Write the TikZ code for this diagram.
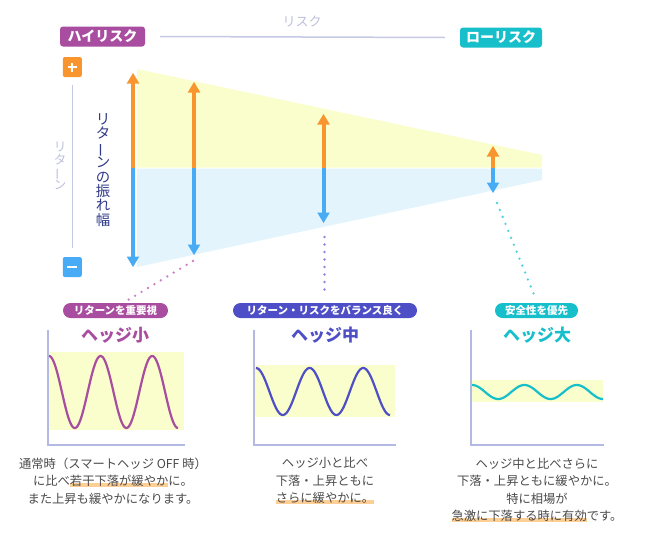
\documentclass[tikz,border=0pt]{standalone}
\usepackage{fontspec}
\setmainfont{Noto Sans CJK JP}
\usepackage{graphicx}
\definecolor{hipurple}{HTML}{A84D9F}
\definecolor{loteal}{HTML}{17BFCB}
\definecolor{midblue}{HTML}{4E4FC6}
\definecolor{fanyel}{HTML}{FAFDCC}
\definecolor{fanblue}{HTML}{E3F4FC}
\definecolor{arrorange}{HTML}{F8952F}
\definecolor{arrblue}{HTML}{47ABF6}
\definecolor{axisc}{HTML}{B4B9E4}
\definecolor{lightline}{HTML}{C5C9E3}
\definecolor{lighttext}{HTML}{BCC0DB}
\definecolor{navytext}{HTML}{2E3A87}
\definecolor{bodytext}{HTML}{4A4A4A}
\definecolor{hlc}{HTML}{FDCF94}
\definecolor{dotpurple}{HTML}{C97FC4}
\definecolor{dotblue}{HTML}{8E8AE3}
\definecolor{dotcyan}{HTML}{4BD3DD}
\newcommand{\hlmark}[1]{\setbox0\hbox{#1}\rlap{\raisebox{-1.5pt}{\textcolor{hlc}{\rule{\wd0}{4.5pt}}}}\box0}
\newcommand{\vbar}{\smash{\rotatebox[origin=c]{90}{ー}}}
\newcommand{\fanarr}[4]{%
  \fill[arrorange] (#1-2,#3) rectangle (#1+2,#2+9);
  \fill[arrorange] (#1,#2) -- (#1-6.3,#2+10.5) -- (#1+6.3,#2+10.5) -- cycle;
  \fill[arrblue] (#1-2,#3) rectangle (#1+2,#4-9);
  \fill[arrblue] (#1,#4) -- (#1-6.3,#4-10.5) -- (#1+6.3,#4-10.5) -- cycle;}
\tikzset{
  riskbox/.style={rounded corners=3pt, inner sep=0pt, minimum height=20pt, text=white, font=\bfseries\fontsize{14}{16}\selectfont},
  signbox/.style={rounded corners=2pt, minimum width=19pt, minimum height=20pt, inner sep=0pt},
  pill/.style={rounded corners=7.5pt, minimum height=15pt, inner sep=0pt, text=white, font=\bfseries\fontsize{10.5}{12}\selectfont},
  charttitle/.style={font=\bfseries\fontsize{17}{19}\selectfont, inner sep=0pt},
  desc/.style={align=center, text=bodytext, font=\fontsize{12.3}{17.5}\selectfont, inner sep=0pt},
  axisline/.style={draw=axisc, line width=1.8pt},
  wave/.style={line width=2.2pt},
  dots/.style={line width=2.6pt, line cap=round, dash pattern=on 0pt off 7.5pt},
  guide/.style={draw=lightline, line width=1.5pt}
}
\begin{document}
\begin{tikzpicture}[x=1pt, y=-1pt]
\useasboundingbox (0,0) rectangle (650,541);
% header
\node[riskbox, fill=hipurple, minimum width=85pt] (hi) at (102.5,36.5) {ハイリスク};
\node[riskbox, fill=loteal, minimum width=82pt] (lo) at (501,37.5) {ローリスク};
\draw[guide] ([xshift=15pt]hi.east) -- ([xshift=-15pt]lo.west);
\node[text=lighttext, font=\fontsize{13}{14}\selectfont, inner sep=0pt] (risk) at (302,22) {リスク};
% left axis
\node[signbox, fill=arrorange] (plus) at (72.3,67) {};
\draw[white, line width=1.8pt] ([xshift=-4.5pt]plus.center) -- ([xshift=4.5pt]plus.center)
  ([yshift=-4.5pt]plus.center) -- ([yshift=4.5pt]plus.center);
\node[signbox, fill=arrblue] (minus) at (72.3,267) {};
\draw[white, line width=1.8pt] ([xshift=-5pt]minus.center) -- ([xshift=5pt]minus.center);
\draw[guide] ([yshift=-8pt]plus.south) -- ([yshift=9pt]minus.north);
\node[align=center, text=lighttext, font=\fontsize{12.5}{12.5}\selectfont, inner sep=0pt] (retv) at (60,166) {リ\\タ\\\vbar\\ン};
% fan
\fill[fanyel] (137,69) -- (542,155) -- (542,167.6) -- (137,167.6) -- cycle;
\fill[fanblue] (137,168.6) -- (542,168.6) -- (542,180) -- (137,267) -- cycle;
\fanarr{133}{73}{168}{267}
\fanarr{194}{82}{168}{255}
\fanarr{323.5}{114}{168}{223}
\fanarr{493}{146}{168}{193}
\node[align=center, text=navytext, font=\fontsize{14.4}{14.4}\selectfont, inner sep=0pt] (swing) at (103,170) {リ\\タ\\\vbar\\ン\\の\\振\\れ\\幅};
% tags and titles
\node[pill, fill=hipurple, minimum width=105pt] (p1) at (115.5,310.5) {リターンを重要視};
\node[pill, fill=midblue, minimum width=184pt] (p2) at (325,310.5) {リターン・リスクをバランス良く};
\node[pill, fill=loteal, minimum width=83pt] (p3) at (536.5,310.5) {安全性を優先};
\node[charttitle, text=hipurple] (t1) at (115,335) {ヘッジ小};
\node[charttitle, text=midblue] (t2) at (325,335.5) {ヘッジ中};
\node[charttitle, text=loteal] (t3) at (537,335.5) {ヘッジ大};
% dotted connectors
\coordinate (d1a) at (193,261); \coordinate (d1b) at (128,300);
\draw[dots, dotpurple] (d1a) -- (d1b);
\coordinate (d2a) at (324.5,237); \coordinate (d2b) at (324.5,297);
\draw[dots, dotblue] (d2a) -- (d2b);
\coordinate (d3a) at (497,203); \coordinate (d3b) at (535,297);
\draw[dots, dotcyan] (d3a) -- (d3b);
% chart 1
\fill[fanyel] (48,352) rectangle (184,430);
\draw[axisline] (48,330) -- (48,445) -- (185,445);
\draw[wave, hipurple] plot[domain=49:178, samples=150, smooth] (\x,{392-36*cos(6.9767*(\x-49))});
% chart 2
\fill[fanyel] (254,365) rectangle (395,417);
\draw[axisline] (254,330) -- (254,445) -- (396,445);
\draw[wave, midblue] plot[domain=256:390, samples=150, smooth] (\x,{391.5-23.5*cos(6.7164*(\x-256))});
% chart 3
\fill[fanyel] (471,380) rectangle (603,402);
\draw[axisline] (471,330) -- (471,445) -- (604,445);
\draw[wave, loteal] plot[domain=472:603, samples=150, smooth] (\x,{392-7*cos(6.8702*(\x-472))});
% descriptions
\node[desc] (c1) at (113,481) {通常時（スマートヘッジ OFF 時）\\に比べ\hlmark{若干下落が緩やか}に。\\また上昇も緩やかになります。};
\node[desc] (c2) at (325,481) {ヘッジ小と比べ\\下落・上昇ともに\\\hlmark{さらに緩やかに。}};
\node[desc] (c3) at (537,490) {ヘッジ中と比べさらに\\下落・上昇ともに緩やかに。\\特に相場が\\\hlmark{急激に下落する時に有効}です。};
\end{tikzpicture}
\end{document}
